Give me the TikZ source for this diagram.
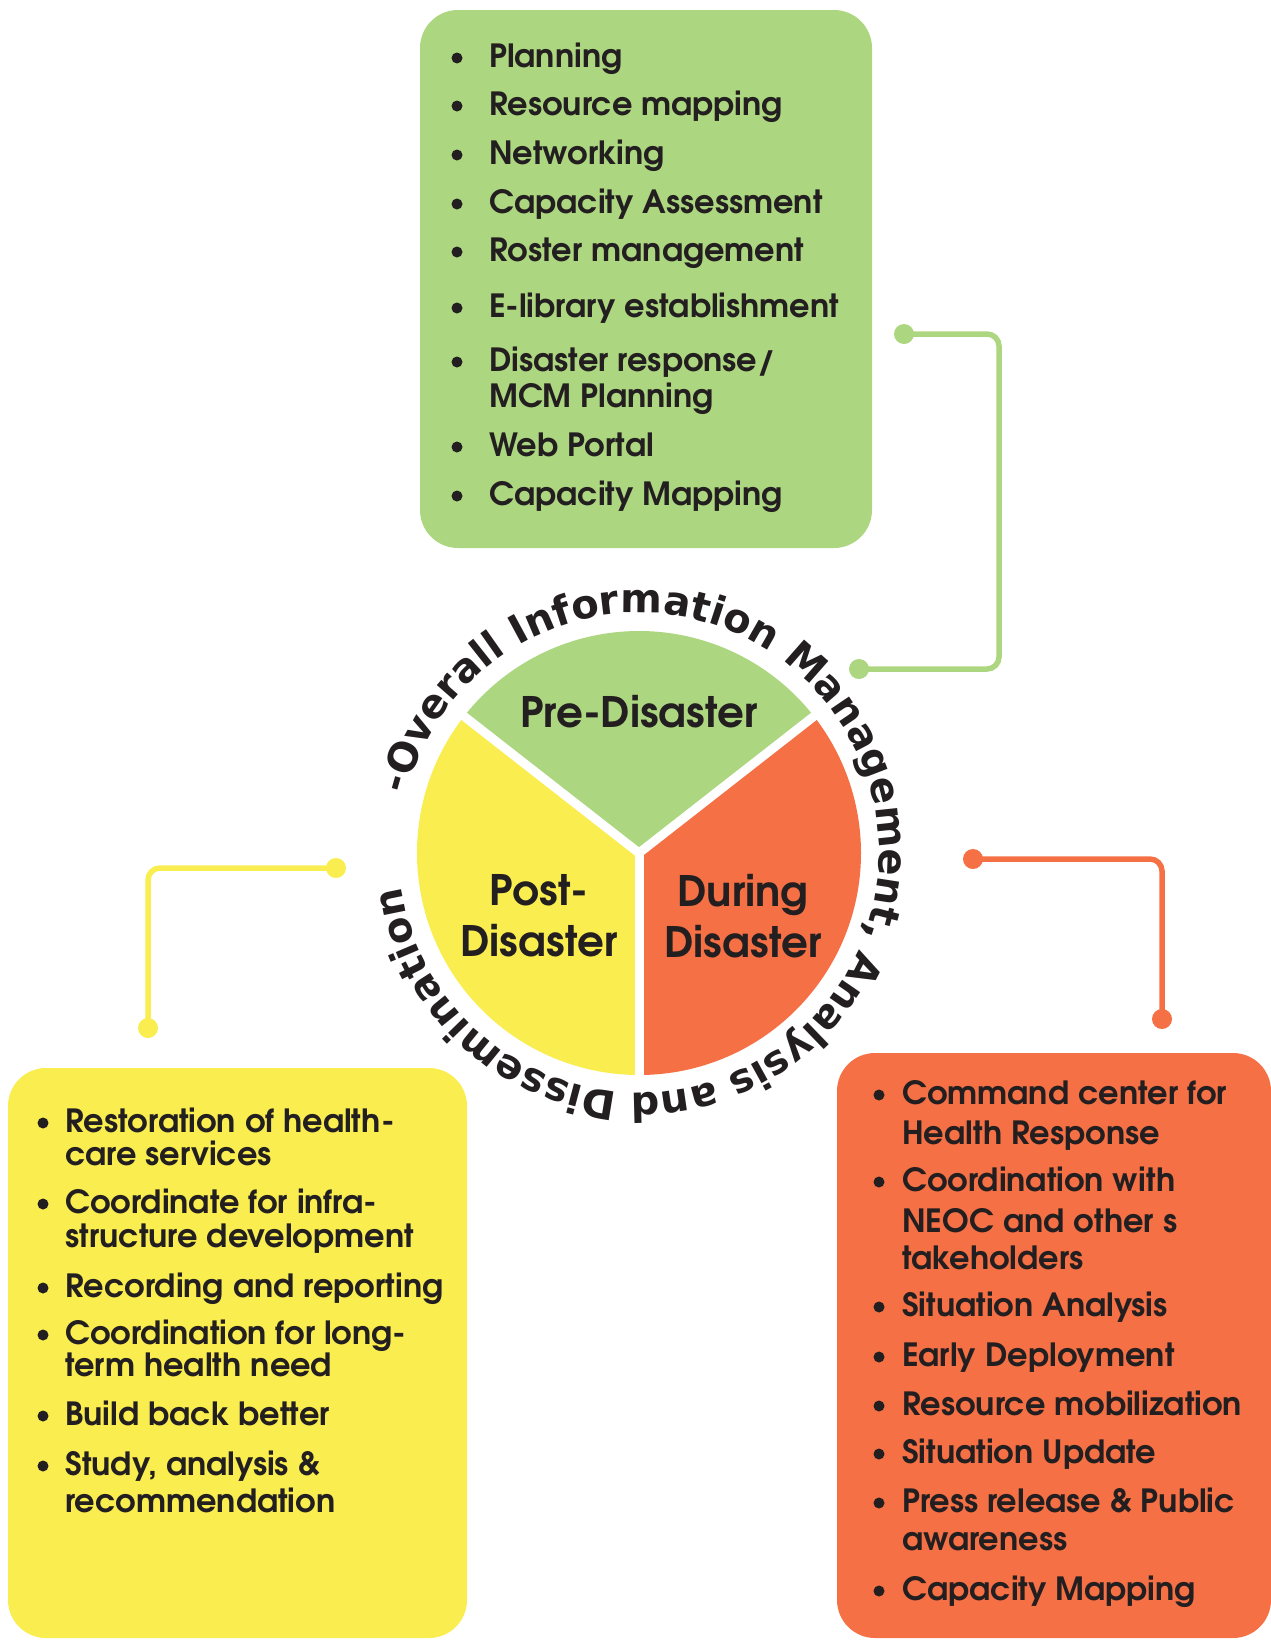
\documentclass[tikz,border=0pt]{standalone}
\usepackage{fontspec}
\setmainfont{texgyreadventor}[Extension=.otf,UprightFont=*-regular,BoldFont=*-bold]
\newfontfamily\arcfont{DejaVu Sans}
\usetikzlibrary{decorations.text}
\definecolor{gfill}{RGB}{173,214,128}
\definecolor{yfill}{RGB}{249,237,80}
\definecolor{ofill}{RGB}{245,112,69}
\definecolor{ink}{RGB}{35,31,32}
\tikzset{
  itemtext/.style={anchor=base west, yshift=-9pt, inner sep=0pt, text=ink, font=\bfseries\fontsize{32}{32}\selectfont},
  bul/.style={circle, fill=ink, inner sep=0pt, minimum size=11pt},
  panel/.style={rounded corners=38pt, inner sep=0pt},
  link/.style={line width=5.5pt, rounded corners=12pt},
  enddot/.style={circle, inner sep=0pt, minimum size=20pt},
  pielabel/.style={text=ink, font=\bfseries\fontsize{42}{51}\selectfont, align=center, inner sep=0pt},
  sep/.style={white, line width=9pt},
}
\begin{document}
\begin{tikzpicture}[x=1pt,y=1pt]
\useasboundingbox (0,0) rectangle (1271,-1641);

% panels
\node[panel, fill=gfill, minimum width=452pt, minimum height=538pt] (gbox) at (646,-279) {};
\node[panel, fill=yfill, minimum width=459pt, minimum height=570pt] (ybox) at (237.5,-1353) {};
\node[panel, fill=ofill, minimum width=434pt, minimum height=585pt] (obox) at (1054,-1345.5) {};

% pie
\coordinate (pc) at (639,-853);
\fill[gfill] (pc) -- ++(38:222) arc[start angle=38,end angle=142,radius=222] -- cycle;
\fill[yfill] (pc) -- ++(142:222) arc[start angle=142,end angle=270,radius=222] -- cycle;
\fill[ofill] (pc) -- ++(270:222) arc[start angle=270,end angle=398,radius=222] -- cycle;
\draw[sep] (pc) -- ++(38:235);
\draw[sep] (pc) -- ++(142:235);
\draw[sep] (pc) -- ++(270:235);

\node[pielabel] (pre) at (639,-712) {Pre-Disaster};
\node[pielabel] (post) at (539,-916) {Post-\\Disaster};
\node[pielabel] (during) at (743,-916) {During\\Disaster};

% curved text
\path[decorate, decoration={text along path, text align={fit to path},
  text={|\arcfont\bfseries\fontsize{40}{40}\selectfont\color{ink}|-Overall Information Management{,} Analysis and Dissemination}}]
  (pc) ++(166:240) arc[start angle=166, end angle=-169, radius=240];

% connectors
\node[enddot, fill=gfill] (gA) at (904,-334) {};
\node[enddot, fill=gfill] (gB) at (859,-669) {};
\coordinate (gX) at (999,0);
\draw[link, gfill] (gA.center) -- (gA.center -| gX) -- (gB.center -| gX) -- (gB.center);

\node[enddot, fill=yfill] (yA) at (336,-868) {};
\node[enddot, fill=yfill] (yB) at (148,-1028) {};
\draw[link, yfill] (yA.center) -- (yA.center -| yB.center) -- (yB.center);

\node[enddot, fill=ofill] (oA) at (973,-859) {};
\node[enddot, fill=ofill] (oB) at (1162,-1019) {};
\draw[link, ofill] (oA.center) -- (oA.center -| oB.center) -- (oB.center);

% green list
\node[bul] (gb1) at (457,-58) {};  \node[itemtext] (g1) at (489,-58) {Planning};
\node[bul] (gb2) at (457,-106) {}; \node[itemtext] (g2) at (489,-106) {Resource mapping};
\node[bul] (gb3) at (457,-155) {}; \node[itemtext] (g3) at (489,-155) {Networking};
\node[bul] (gb4) at (457,-204) {}; \node[itemtext] (g4) at (489,-204) {Capacity Assessment};
\node[bul] (gb5) at (457,-252) {}; \node[itemtext] (g5) at (489,-252) {Roster management};
\node[bul] (gb6) at (457,-308) {}; \node[itemtext] (g6) at (489,-308) {E-library establishment};
\node[bul] (gb7) at (457,-362) {}; \node[itemtext] (g7) at (489,-362) {Disaster response/};
\node[itemtext] (g7b) at (489,-398) {MCM Planning};
\node[bul] (gb8) at (457,-447) {}; \node[itemtext] (g8) at (489,-447) {Web Portal};
\node[bul] (gb9) at (457,-496) {}; \node[itemtext] (g9) at (489,-496) {Capacity Mapping};

% yellow list
\node[bul] (yb1) at (43,-1123) {}; \node[itemtext] (y1) at (65,-1123) {Restoration of health-};
\node[itemtext] (y1b) at (65,-1156) {care services};
\node[bul] (yb2) at (43,-1204) {}; \node[itemtext] (y2) at (65,-1204) {Coordinate for infra-};
\node[itemtext] (y2b) at (65,-1238) {structure development};
\node[bul] (yb3) at (43,-1288) {}; \node[itemtext] (y3) at (65,-1288) {Recording and reporting};
\node[bul] (yb4) at (43,-1335) {}; \node[itemtext] (y4) at (65,-1335) {Coordination for long-};
\node[itemtext] (y4b) at (65,-1367) {term health need};
\node[bul] (yb5) at (43,-1416) {}; \node[itemtext] (y5) at (65,-1416) {Build back better};
\node[bul] (yb6) at (43,-1466) {}; \node[itemtext] (y6) at (65,-1466) {Study, analysis \&};
\node[itemtext] (y6b) at (65,-1503) {recommendation};

% orange list
\node[bul] (ob1) at (879,-1095) {}; \node[itemtext] (o1) at (902,-1095) {Command center for};
\node[itemtext] (o1b) at (902,-1135) {Health Response};
\node[bul] (ob2) at (879,-1182) {}; \node[itemtext] (o2) at (902,-1182) {Coordination with};
\node[itemtext] (o2b) at (902,-1223) {NEOC and other s};
\node[itemtext] (o2c) at (902,-1260) {takeholders};
\node[bul] (ob3) at (879,-1307) {}; \node[itemtext] (o3) at (902,-1307) {Situation Analysis};
\node[bul] (ob4) at (879,-1357) {}; \node[itemtext] (o4) at (902,-1357) {Early Deployment};
\node[bul] (ob5) at (879,-1406) {}; \node[itemtext] (o5) at (902,-1406) {Resource mobilization};
\node[bul] (ob6) at (879,-1454) {}; \node[itemtext] (o6) at (902,-1454) {Situation Update};
\node[bul] (ob7) at (879,-1503) {}; \node[itemtext] (o7) at (902,-1503) {Press release \& Public};
\node[itemtext] (o7b) at (902,-1541) {awareness};
\node[bul] (ob8) at (879,-1591) {}; \node[itemtext] (o8) at (902,-1591) {Capacity Mapping};
\end{tikzpicture}
\end{document}
